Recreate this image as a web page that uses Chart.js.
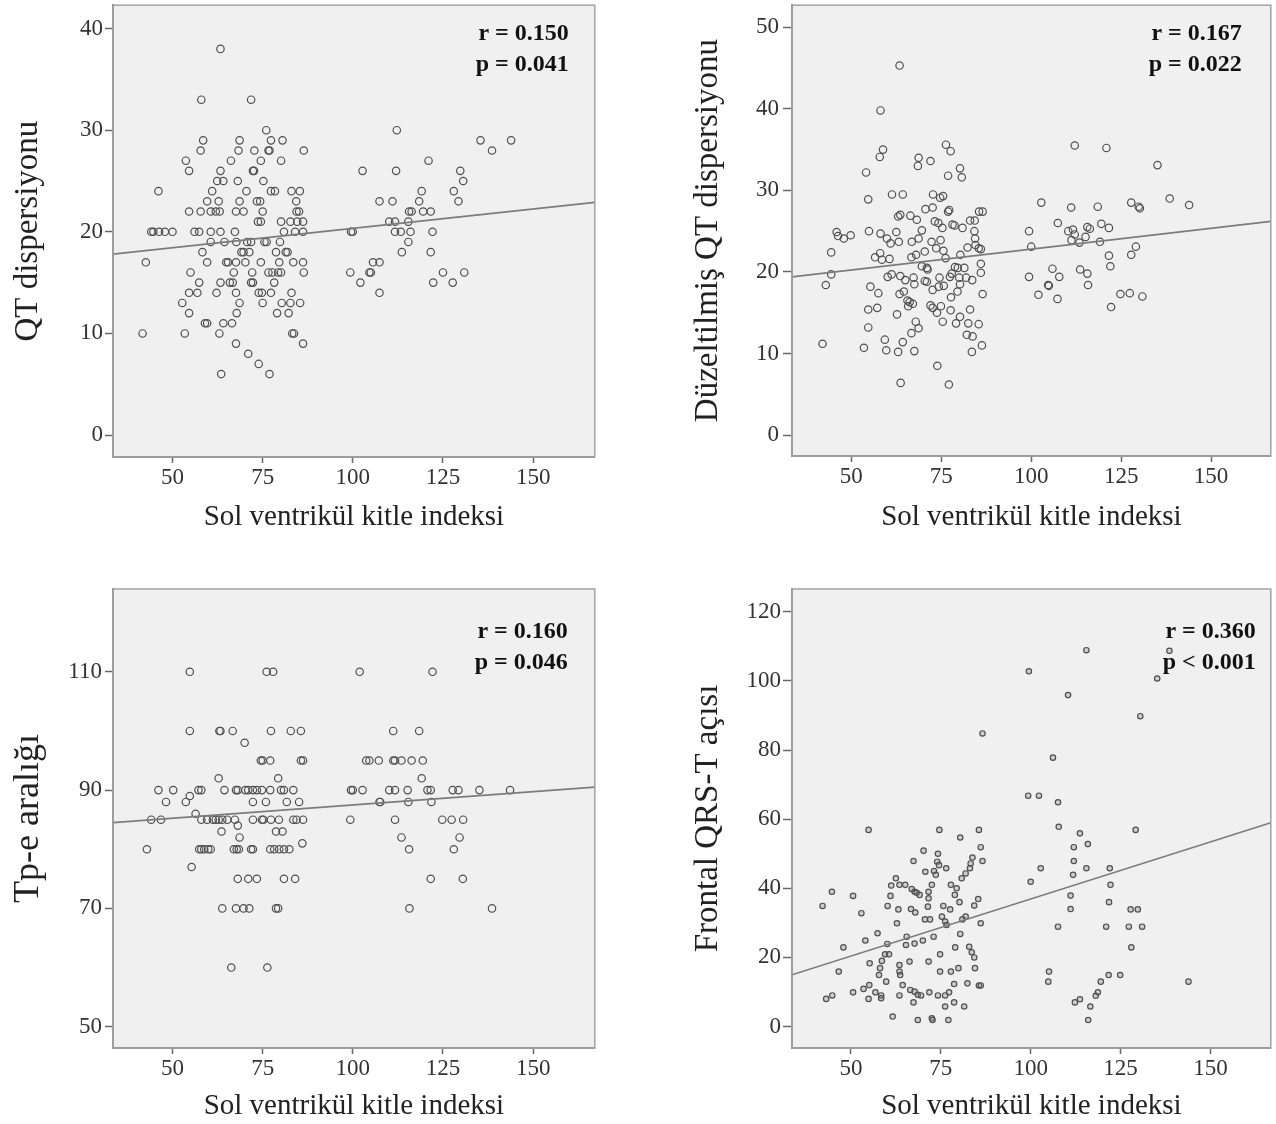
<!DOCTYPE html>
<html>
<head>
<meta charset="utf-8">
<title>Sol ventrikül kitle indeksi korelasyonları</title>
<script src="https://cdn.jsdelivr.net/npm/chart.js@4.4.1/dist/chart.umd.min.js"></script>
<style>
  body { margin: 0; background: #fff; width: 1276px; height: 1124px; position: relative; overflow: hidden; }
  canvas { position: absolute; }
</style>
</head>
<body>
<canvas id="qtChart" width="600" height="540" style="left:0;top:0"></canvas>
<canvas id="qtcChart" width="596" height="540" style="left:680px;top:0"></canvas>
<canvas id="tpeChart" width="600" height="554" style="left:0;top:570px"></canvas>
<canvas id="qrstChart" width="596" height="554" style="left:680px;top:570px"></canvas>
<script>
// ==============================
// DATA
// ==============================
const xTicks = [50, 75, 100, 125, 150];
const xTitle = "Sol ventrikül kitle indeksi";

// QT dispersiyonu  [LVMI, value]
const qtTicks = [0, 10, 20, 30, 40];
const qtPoints = [
  [63.3,38],[58,33],[71.8,33],[76,30],[112.2,30],
  [58.5,29],[68.6,29],[77.3,29],[80.5,29],[135.4,29],[143.9,29],
  [57.8,28],[68.3,28],[72.7,28],[76.6,28],[76.9,28],[86.4,28],[138.6,28],
  [53.7,27],[66.2,27],[74.5,27],[80.1,27],[121,27],
  [54.6,26],[63.3,26],[72.3,26],[72.6,26],[102.7,26],[112,26],[129.8,26],
  [62.4,25],[64.1,25],[68.1,25],[75.2,25],[130.6,25],
  [46.1,24],[61,24],[70.5,24],[77.3,24],[78.4,24],[83,24],[85.3,24],[119.1,24],[128,24],
  [59.6,23],[62.8,23],[68.6,23],[73.4,23],[74.3,23],[84.3,23],[107.4,23],[111,23],[118.4,23],[129.3,23],
  [54.6,22],[57.8,22],[60.6,22],[62,22],[63.1,22],[67.6,22],[69.7,22],[75,22],[84.4,22],[85.1,22],
  [115.6,22],[116.3,22],[119.5,22],[121.6,22],
  [73.7,21],[74.5,21],[80.1,21],[82.7,21],[84.6,21],[86.2,21],[110.1,21],[111.7,21],[115.4,21],
  [44.1,20],[44.7,20],[46.3,20],[47.9,20],[50,20],[56.1,20],[57.4,20],[60.6,20],[63.3,20],[67.3,20],
  [80.9,20],[84,20],[86.2,20],[99.5,20],[100,20],[111.7,20],[113.3,20],[116,20],[122.1,20],
  [60.6,19],[64.4,19],[67.7,19],[70.7,19],[71.8,19],[75.5,19],[76.1,19],[79.8,19],[115.4,19],
  [58.3,18],[69.1,18],[69.7,18],[71.3,18],[78.7,18],[81.4,18],[81.9,18],[113.6,18],[121.6,18],
  [42.6,17],[59.6,17],[64.9,17],[65.4,17],[67.6,17],[70.2,17],[74.5,17],[79.6,17],[83.5,17],[86.2,17],
  [105.6,17],[107.4,17],
  [55,16],[67,16],[72.1,16],[76.6,16],[77.7,16],[79.3,16],[80.1,16],[86.4,16],[99.3,16],[104.6,16],
  [105,16],[125,16],[130.9,16],
  [57.4,15],[63.3,15],[65.9,15],[66.7,15],[71.8,15],[72.3,15],[78.2,15],[102.1,15],[122.3,15],[127.7,15],
  [54.6,14],[56.9,14],[62.2,14],[67.6,14],[73.9,14],[74.8,14],[77.3,14],[83,14],[107.4,14],
  [52.7,13],[68.6,13],[75,13],[80.3,13],[82.7,13],[85.4,13],
  [54.6,12],[67.8,12],[79,12],[82.2,12],
  [59,11],[59.6,11],[64.1,11],[66.5,11],
  [41.7,10],[53.4,10],[63,10],[83.2,10],[83.7,10],
  [67.6,9],[86.2,9],[71,8],[73.9,7],[63.5,6],[76.9,6]
];
const qtFit = [[33.5,17.8],[167.1,22.9]];

// Düzeltilmiş QT dispersiyonu
const qtcTicks = [0, 10, 20, 30, 40, 50];
const qtcPoints = [
  [63.4,45.3],[58.1,39.8],[58.8,35.0],[57.9,34.1],[76.3,35.6],[77.6,34.8],
  [68.7,34.0],[68.5,33.0],[72.0,33.6],[54.1,32.2],[80.2,32.7],[80.7,31.6],[76.9,31.8],
  [112.1,35.5],[120.9,35.2],[135.1,33.1],[54.7,28.9],[61.3,29.5],[64.3,29.5],
  [72.7,29.5],[74.7,29.1],[75.5,29.3],[102.8,28.5],[111.1,27.9],[118.5,28.0],
  [127.8,28.5],[129.9,28.0],[130.2,27.8],[138.5,29.0],[143.9,28.2],[70.6,27.7],[72.6,27.9],
  [76.9,27.4],[77.2,27.6],[85.5,27.4],[86.5,27.4],[63.0,26.8],[63.6,27.0],[66.4,26.9],[68.2,26.4],
  [73.2,26.2],[74.2,26.0],[75.3,25.4],[78.1,25.8],[78.7,25.7],[80.9,25.4],[83.0,26.3],[84.3,26.3],
  [107.4,26.0],[110.3,25.0],[111.6,25.2],[112.1,24.6],[115.6,25.5],[116.3,25.3],[119.5,25.9],[121.6,25.4],
  [99.4,25.0],[45.9,24.9],[46.3,24.4],[47.9,24.1],[49.8,24.5],
  [54.9,25.0],[58.1,24.7],[59.9,24.1],[62.5,24.9],[63.2,23.7],[60.9,23.5],
  [66.8,23.7],[68.7,24.1],[69.6,25.1],[72.3,23.7],[74.8,23.9],[73.6,22.9],[75.6,22.6],
  [84.2,25.0],[84.4,24.1],[84.5,23.3],[82.3,23.0],[85.4,22.9],[86.0,22.8],
  [111.2,23.9],[113.4,23.6],[115.1,24.3],[119.1,23.7],[100.0,23.1],[129.1,23.1],[127.8,22.1],
  [121.6,22.0],[122.0,20.7],[44.4,22.4],[44.4,19.7],[42.9,18.4],
  [56.6,21.8],[58.0,22.3],[58.5,21.5],[60.6,21.6],[66.7,21.8],[68.0,22.1],[70.4,22.5],
  [69.6,20.7],[71.0,20.5],[71.2,20.3],[76.2,21.7],[80.3,22.1],
  [78.8,20.6],[79.6,20.5],[81.4,20.5],[86.0,21.0],[60.1,19.4],[61.2,19.7],[63.6,19.5],
  [65.0,19.0],[67.3,19.3],[67.5,18.5],[70.4,18.9],[71.0,18.8],[74.5,19.3],
  [77.4,19.4],[77.9,19.8],[80.0,19.3],[81.9,19.3],[83.6,19.0],[86.0,19.9],[75.7,18.3],[80.2,18.5],
  [105.9,20.4],[107.8,19.4],[99.4,19.4],[113.6,20.3],[115.6,19.8],[115.8,18.4],
  [104.7,18.4],[104.9,18.3],[102.0,17.2],[107.3,16.7],[124.8,17.3],[127.4,17.4],[130.9,17.0],
  [122.2,15.7],[55.3,18.2],[57.5,17.4],[63.4,17.3],[64.6,17.6],[65.6,16.5],
  [66.2,16.3],[67.1,16.1],[65.8,15.8],[72.6,17.8],[74.3,18.2],[79.5,17.6],[77.7,16.9],[86.5,17.3],
  [54.7,15.4],[57.2,15.6],[62.7,14.8],[72.0,15.9],[72.6,15.6],[74.9,15.8],[73.8,15.0],
  [77.6,15.3],[80.2,14.5],[79.1,13.7],[83.0,15.4],[67.9,13.9],[68.7,13.1],[66.7,12.5],[64.3,11.4],
  [54.7,13.2],[75.4,13.9],[82.5,13.7],[85.4,13.6],[82.1,12.3],[83.7,12.1],[86.3,11.0],
  [59.3,11.7],[42.0,11.2],[53.5,10.7],[59.7,10.4],[63.0,10.2],[67.5,10.3],[83.5,10.2],
  [73.9,8.5],[63.7,6.4],[77.1,6.2]
];
const qtcFit = [[33.5,19.4],[166.6,26.2]];

// Tp-e aralığı
const tpeTicks = [50, 70, 90, 110];
const tpePoints = [
  [54.8,110],[76.1,110],[77.9,110],[101.9,110],[122.1,110],
  [54.8,100],[63,100],[63.3,100],[66.7,100],[77.3,100],[82.8,100],[85.6,100],[111.2,100],[118.4,100],
  [70,98],
  [74.5,95],[75,95],[77.1,95],[85.6,95],[86.2,95],[103.7,95],[104.6,95],[107.2,95],
  [111.2,95],[111.7,95],[113.5,95],[116.3,95],[119.4,95],
  [62.8,92],[79.3,92],[119.1,92],
  [46.1,90],[50.2,90],[57.2,90],[58,90],[64.4,90],[67.6,90],[68.1,90],[70.2,90],[71,90],[72.3,90],
  [73.4,90],[74.8,90],[77.1,90],[80.1,90],[80.9,90],[83.5,90],[99.5,90],[100,90],[102.7,90],
  [110.1,90],[111.7,90],[115.2,90],[120.7,90],[121.6,90],[127.7,90],[129.3,90],[135.1,90],[143.6,90],
  [48.2,88],[53.7,88],[54.8,89],[72.3,88],[75.9,88],[81.7,88],[85.1,88],[107.4,88],[107.6,88],[115.4,88],[121.8,88],
  [56.4,86],
  [44.1,85],[46.8,85],[58,85],[59.6,85],[61.2,85],[62,85],[62.8,85],[63.8,85],[65.2,85],[67.3,85],
  [72.3,85],[74.8,85],[75.2,85],[77.3,85],[79.5,85],[83.5,85],[84.4,85],[86.2,85],[99.3,85],
  [111.7,85],[124.8,85],[127.4,85],[130.6,85],
  [68.1,84],[63.6,83],[78.7,83],[80.5,83],[113.5,82],[129.6,82],[68.6,82],[86,81],
  [42.9,80],[57.4,80],[58,80],[58.8,80],[59.9,80],[60.6,80],[67,80],[67.8,80],[68.4,80],[71.8,80],
  [72.3,80],[77.1,80],[78.2,80],[79.6,80],[80.9,80],[82.4,80],[115.6,80],[128,80],
  [55.3,77],
  [68.1,75],[71,75],[73.4,75],[80.9,75],[84,75],[121.6,75],[130.5,75],
  [63.8,70],[67.6,70],[69.7,70],[71.3,70],[78.7,70],[79.3,70],[115.7,70],[138.6,70],
  [66.3,60],[76.3,60]
];
const tpeFit = [[33.5,84.5],[167.1,90.5]];

// Frontal QRS-T açısı
const qrstTicks = [0, 20, 40, 60, 80, 100, 120];
const qrstPoints = [
  [115.5,108.9],[138.6,108.7],[99.5,102.8],[135.2,100.7],[110.4,95.9],[130.5,89.8],
  [86.6,84.8],[106.2,77.8],[99.3,66.8],[102.3,66.8],[107.6,64.9],[107.8,57.8],
  [54.9,56.9],[74.6,56.9],[85.6,56.9],[129.2,56.9],[80.4,54.7],[113.7,55.9],
  [86.1,51.9],[112.0,51.9],[115.9,52.8],[70.2,50.9],[74.2,50.0],
  [67.4,47.9],[83.8,48.9],[86.6,47.9],[112.0,47.9],[74.0,47.7],[74.5,46.7],
  [70.7,44.8],[73.1,45.0],[76.5,45.8],[73.6,43.9],[102.8,45.8],[115.5,45.8],[122.0,45.8],
  [83.3,47.2],[83.1,45.8],[81.9,44.3],[80.8,42.9],[111.8,43.9],[100.0,41.9],
  [62.5,42.9],[61.2,40.8],[63.5,41.0],[65.1,41.0],[66.9,39.8],[67.7,39.0],[68.3,38.7],[69.1,38.1],
  [72.5,41.0],[71.6,39.0],[71.6,37.1],[71.4,34.7],[77.8,41.0],[79.4,40.0],[78.9,38.1],[80.2,36.0],
  [122.2,41.0],[44.7,39.0],[50.6,37.8],[61.0,37.8],[85.4,36.9],[84.3,35.0],
  [111.1,37.9],[111.1,34.0],[121.8,36.0],
  [42.1,34.9],[60.2,34.9],[63.2,33.9],[66.7,34.0],[67.9,33.0],[75.7,34.9],[77.6,33.9],
  [127.8,33.9],[129.8,33.9],[52.9,32.8],[70.6,31.0],[72.0,31.0],
  [75.3,31.8],[76.2,30.4],[76.6,29.4],[81.9,31.8],[81.0,31.0],[86.1,29.9],[62.8,29.9],
  [107.6,28.9],[121.0,28.9],[127.3,28.9],[131.0,28.9],[57.4,27.0],[65.5,26.0],[80.4,26.8],
  [73.0,26.0],[70.0,24.9],[54.0,24.9],[60.1,23.9],[65.3,23.6],[67.7,24.0],
  [47.9,22.9],[79.0,22.9],[82.9,23.1],[128.0,22.9],
  [59.5,20.9],[60.6,20.9],[74.8,20.9],[83.6,21.5],[84.3,20.0],
  [58.6,19.0],[55.2,18.3],[66.3,18.8],[63.5,17.8],[71.6,18.8],
  [58.1,16.9],[79.9,16.9],[84.5,16.9],[46.6,15.9],[63.5,15.9],[74.8,15.9],[77.8,15.9],
  [57.8,14.9],[63.7,14.9],[105.1,15.9],[121.7,14.9],[124.9,14.9],
  [59.8,13.0],[64.4,12.0],[82.4,12.5],[85.6,11.9],[86.1,11.9],[119.5,13.0],
  [104.9,13.0],[143.9,13.0],[78.7,12.3],
  [53.5,10.9],[55.1,12.0],[56.8,9.9],[58.4,9.0],[50.6,9.9],[44.8,9.0],[43.1,8.0],
  [54.9,8.0],[58.4,8.2],[63.5,9.0],[66.5,10.6],[67.7,10.1],[68.6,9.2],[69.5,9.0],
  [71.8,9.9],[74.2,9.0],[76.2,9.0],[77.3,9.9],[67.4,7.0],
  [78.7,7.0],[76.2,5.8],[81.5,5.8],[118.7,9.9],[118.1,8.9],[112.3,7.0],[113.7,7.9],[116.6,5.8],
  [61.6,2.9],[68.6,1.9],[72.5,2.4],[72.7,1.9],[77.1,1.9],[116.0,1.9]
];
const qrstFit = [[33.6,15.0],[166.8,59.0]];


// ==============================
// PLUGINS
// ==============================
const FONT = "'Liberation Serif', 'Times New Roman', serif";

// grey plot background + frame
const framePlugin = {
    id: "frame",
    beforeDraw(chart) {
        const a = chart.chartArea;
        const ctx = chart.ctx;
        ctx.save();
        ctx.fillStyle = "#f0f0f0";
        ctx.fillRect(a.left, a.top, a.right - a.left, a.bottom - a.top);
        ctx.restore();
    },
    afterDraw(chart) {
        const a = chart.chartArea;
        const ctx = chart.ctx;
        ctx.save();
        ctx.strokeStyle = "#a2a2a2";
        ctx.lineWidth = 1.5;
        ctx.strokeRect(a.left, a.top, a.right - a.left, a.bottom - a.top);
        ctx.restore();
    }
};

// r / p text in the top right corner
const statsPlugin = {
    id: "stats",
    afterDatasetsDraw(chart, args, opts) {
        const a = chart.chartArea;
        const ctx = chart.ctx;
        ctx.save();
        ctx.font = "bold 24px " + FONT;
        ctx.fillStyle = "#111";
        ctx.textAlign = "right";
        ctx.textBaseline = "middle";
        opts.lines.forEach((t, i) => {
            ctx.fillText(t, a.right - opts.right, a.top + opts.top + i * 31);
        });
        ctx.restore();
    }
};


// ==============================
// PANEL BUILDER
// ==============================
function toXY(list) {
    return list.map(p => ({ x: p[0], y: p[1] }));
}

function buildPanel(p) {
    const ctx = document.getElementById(p.id);

    return new Chart(ctx, {
        type: "scatter",
        data: {
            datasets: [
                {
                    data: toXY(p.fit),
                    type: "line",
                    showLine: true,
                    pointRadius: 0,
                    borderColor: "#7c7c7c",
                    borderWidth: 1.6,
                    order: 0
                },
                {
                    data: toXY(p.points),
                    pointStyle: "circle",
                    pointRadius: p.radius,
                    borderWidth: 1.2,
                    borderColor: "#505050",
                    backgroundColor: p.fill,
                    order: 1
                }
            ]
        },
        options: {
            responsive: false,
            animation: false,
            layout: { padding: { left: 0, top: p.padTop, right: p.padRight, bottom: 0 } },
            plugins: {
                legend: { display: false },
                tooltip: { enabled: false },
                stats: { lines: p.stats, right: p.statsRight, top: p.statsTop }
            },
            scales: {
                x: {
                    type: "linear",
                    min: p.xMin,
                    max: p.xMax,
                    afterBuildTicks: s => { s.ticks = xTicks.map(v => ({ value: v })); },
                    afterFit: s => { s.height = p.xHeight; s.paddingLeft = 0; s.paddingRight = 0; },
                    ticks: { font: { family: FONT, size: 23 }, color: "#333", padding: 1 },
                    grid: { drawOnChartArea: false, tickLength: 6, tickColor: "#666", tickWidth: 1.5 },
                    border: { color: "#8c8c8c", width: 2 },
                    title: {
                        display: true,
                        text: xTitle,
                        font: { family: FONT, size: 29 },
                        color: "#222",
                        padding: { top: 0, bottom: p.xTitlePad }
                    }
                },
                y: {
                    type: "linear",
                    min: p.yMin,
                    max: p.yMax,
                    afterBuildTicks: s => { s.ticks = p.yTicks.map(v => ({ value: v })); },
                    afterFit: s => { s.width = p.yWidth; s.paddingTop = 0; s.paddingBottom = 0; },
                    ticks: { font: { family: FONT, size: 23 }, color: "#333", padding: p.yTickPad },
                    grid: { drawOnChartArea: false, tickLength: p.yTickLen, tickColor: "#666", tickWidth: 1.5 },
                    border: { color: "#8c8c8c", width: 2 },
                    title: {
                        display: true,
                        text: p.yTitle,
                        font: { family: FONT, size: p.yTitleSize },
                        color: "#222",
                        padding: { top: p.yTitlePad, bottom: 0 }
                    }
                }
            }
        },
        plugins: [framePlugin, statsPlugin]
    });
}


// ==============================
// PANELS
// ==============================
buildPanel({
    id: "qtChart", points: qtPoints, fit: qtFit, yTicks: qtTicks,
    yTitle: "QT dispersiyonu", stats: ["r = 0.150", "p = 0.041"],
    xMin: 33.5, xMax: 167.1, yMin: -2.16, yMax: 42.3,
    padTop: 3, padRight: 5, yWidth: 113, xHeight: 83, xTitlePad: 5,
    yTickLen: 8, yTickPad: 2, yTitleSize: 33, yTitlePad: 9,
    radius: 3.7, fill: "rgba(0,0,0,0)",
    statsRight: 26, statsTop: 29
});

buildPanel({
    id: "qtcChart", points: qtcPoints, fit: qtcFit, yTicks: qtcTicks,
    yTitle: "Düzeltilmiş QT dispersiyonu", stats: ["r = 0.167", "p = 0.022"],
    xMin: 33.5, xMax: 166.6, yMin: -2.56, yMax: 52.7,
    padTop: 3, padRight: 3, yWidth: 112, xHeight: 84, xTitlePad: 5,
    yTickLen: 9, yTickPad: 4, yTitleSize: 33, yTitlePad: 9,
    radius: 3.7, fill: "rgba(0,0,0,0)",
    statsRight: 29, statsTop: 29
});

buildPanel({
    id: "tpeChart", points: tpePoints, fit: tpeFit, yTicks: tpeTicks,
    yTitle: "Tp-e aralığı", stats: ["r = 0.160", "p = 0.046"],
    xMin: 33.5, xMax: 167.1, yMin: 46.4, yMax: 124.0,
    padTop: 19, padRight: 5, yWidth: 113, xHeight: 76, xTitlePad: 0,
    yTickLen: 8, yTickPad: 3, yTitleSize: 36, yTitlePad: 7,
    radius: 3.7, fill: "rgba(0,0,0,0)",
    statsRight: 27, statsTop: 43
});

buildPanel({
    id: "qrstChart", points: qrstPoints, fit: qrstFit, yTicks: qrstTicks,
    yTitle: "Frontal QRS-T açısı", stats: ["r = 0.360", "p < 0.001"],
    xMin: 33.6, xMax: 166.8, yMin: -6.2, yMax: 126.6,
    padTop: 19, padRight: 3, yWidth: 112, xHeight: 76, xTitlePad: 0,
    yTickLen: 9, yTickPad: 2, yTitleSize: 33, yTitlePad: 9,
    radius: 2.7, fill: "rgba(140,140,140,0.35)",
    statsRight: 15, statsTop: 43
});
</script>
</body>
</html>
